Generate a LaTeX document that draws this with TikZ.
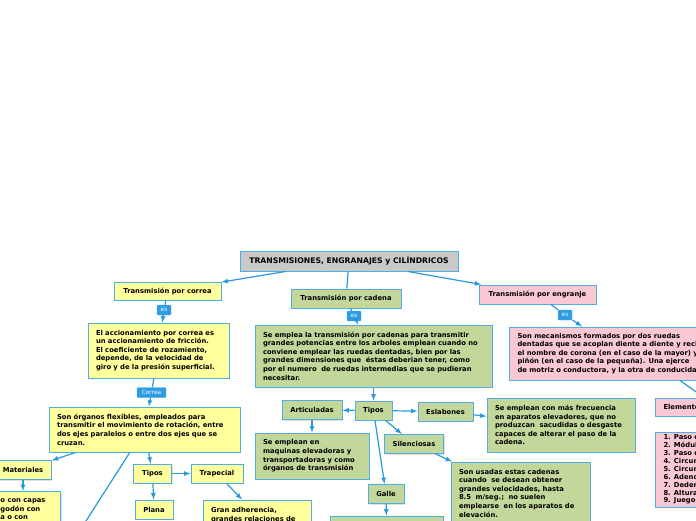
\documentclass[tikz,border=0pt]{standalone}
\usepackage{fontspec}
\setmainfont{DejaVu Sans}
\usepackage{tikz}
\usetikzlibrary{arrows, shapes, shadows}

\definecolor{mmline}{HTML}{2A98DC}
\definecolor{mmborder}{HTML}{4FAEE6}
\definecolor{mmyellow}{HTML}{FFFF9E}
\definecolor{mmgreen}{HTML}{C4D79B}
\definecolor{mmpink}{HTML}{F9C8D2}
\definecolor{mmgray}{HTML}{C9C9C9}
\definecolor{mmlabel}{HTML}{2E9CE2}

\begin{document}
\begin{tikzpicture}[
    x=1pt, y=-1pt, >=latex,
    every edge/.style={draw=mmline, line width=1.2pt},
    mmbox/.style={shape=rectangle, draw=mmborder, line width=1pt, inner xsep=8pt, inner ysep=2pt, minimum height=19pt, align=left, font=\bfseries\fontsize{6.8}{8.6}\selectfont, drop shadow={shadow xshift=1.2pt, shadow yshift=-1.2pt, opacity=0.25}},
    ybox/.style={mmbox, fill=mmyellow},
    gbox/.style={mmbox, fill=mmgreen},
    pbox/.style={mmbox, fill=mmpink},
    mmlbl/.style={shape=rectangle, fill=mmlabel, draw=mmborder, text=white, rounded corners=1pt, inner sep=1pt, minimum width=14pt, minimum height=10pt, font=\fontsize{5.8}{6}\selectfont},
]
\useasboundingbox (0, 0) rectangle (696, 520);
\clip (0, 0) rectangle (696, 520);

\node[mmbox, fill=mmgray, minimum width=218pt, minimum height=20pt, font=\bfseries\fontsize{7.7}{9}\selectfont] (root) at (349, 261) {TRANSMISIONES, ENGRANAJES y CILÍNDRICOS};

% correa
\node[ybox, minimum width=107pt, minimum height=18pt] (correa) at (167.5, 291) {Transmisión por correa};
\node[mmlbl] (esA) at (164, 310) {es};
\node[ybox, text width=125pt, minimum height=55pt] (friccion) at (158.5, 350.5) {El accionamiento por correa es\\un accionamiento de fricción.\\El coeficiente de rozamiento,\\depende, de la velocidad de\\giro y de la presión superficial.};
\node[mmlbl, minimum width=29pt] (correaLbl) at (151.5, 392.5) {Correa};
\node[ybox, text width=175pt, minimum height=45pt] (organos) at (144.5, 429.5) {Son órganos flexibles, empleados para\\transmitir el movimiento de rotación, entre\\dos ejes paralelos o entre dos ejes que se\\cruzan.};
\node[ybox, minimum width=56pt] (materiales) at (23, 470) {Materiales};
\node[ybox, minimum width=75pt, minimum height=36pt, anchor=north east] (cuero) at (61, 491) {o con capas\\godón con\\a o con};
\coordinate (organosOut) at (61, 560);
\node[ybox, minimum width=38pt] (tiposA) at (152.5, 473.5) {Tipos};
\node[ybox, minimum width=52pt] (trapecial) at (217, 473.5) {Trapecial};
\node[ybox, minimum width=38pt] (plana) at (154, 509.5) {Plana};
\node[ybox, text width=92pt, minimum height=30pt] (adherencia) at (257, 515) {Gran adherencia,\\grandes relaciones de};

% cadena
\node[gbox, minimum width=110pt] (cadena) at (346, 298.5) {Transmisión por cadena};
\node[mmlbl] (esB) at (354, 316) {es};
\node[gbox, text width=221pt, minimum height=62pt] (cadenaTxt) at (373.5, 356) {Se emplea la transmisión por cadenas para transmitir\\grandes potencias entre los arboles emplean cuando no\\conviene emplear las ruedas dentadas, bien por las\\grandes dimensiones que \ éstas deberian tener, como\\por el numero \ de ruedas intermedias que se pudieran\\necesitar.};
\node[gbox, minimum width=37pt] (tiposB) at (373.5, 410.5) {Tipos};
\node[gbox, minimum width=60pt] (articuladas) at (312, 410) {Articuladas};
\node[gbox, minimum width=55pt] (eslabones) at (445.5, 411.5) {Eslabones};
\node[gbox, text width=132pt, minimum height=54pt] (frecuencia) at (561, 425) {Se emplean con más frecuencia\\en aparatos elevadores, que no\\produzcan \ sacudidas o desgaste\\capaces de alterar el paso de la\\cadena.};
\node[gbox, text width=98pt, minimum height=46pt] (maquinas) at (312, 456) {Se emplean en\\maquinas elevadoras y\\transportadoras y como\\órganos de transmisión};
\node[gbox, minimum width=58pt] (silenciosas) at (414, 444) {Silenciosas};
\node[gbox, text width=123pt, minimum height=62pt] (usadas) at (520.5, 493) {Son usadas estas cadenas\\cuando \ se desean obtener\\grandes velocidades, hasta\\8.5 \ m/seg.; \ no suelen\\emplearse \ en los aparatos de\\elevación.};
\node[gbox, minimum width=36pt] (galle) at (386, 494) {Galle};
\node[gbox, minimum width=113pt, minimum height=20pt] (galleTxt) at (386.5, 526) {};

% engranje
\node[pbox, minimum width=117pt] (engranje) at (537.5, 294.5) {Transmisión por engranje};
\node[mmlbl] (esC) at (565, 315) {es};
\node[pbox, anchor=west, minimum height=53pt] (mecanismos) at (509, 353.5) {Son mecanismos formados por dos ruedas\\dentadas que se acoplan diente a diente y reciben\\el nombre de corona (en el caso de la mayor) y\\piñón (en el caso de la pequeña). Una ejerce\\de motriz o conductora, y la otra de conducida.};
\node[pbox, anchor=west, minimum height=18pt] (elementos) at (655, 407) {Elementos};
\node[pbox, anchor=west, minimum height=75pt, font=\bfseries\fontsize{6.8}{7.9}\selectfont] (lista) at (655, 469.5) {1. Paso circular\\2. Módulo\\3. Paso diametral\\4. Circunferencia\\5. Circunferencia\\6. Adendo\\7. Dedendo\\8. Altura\\9. Juego};

\path[->]
    (root) edge (correa)
    (root) edge[-] (cadena)
    (root) edge (engranje)
    (correa) edge[-] (esA)
    (esA) edge (friccion)
    (friccion) edge[-] (correaLbl)
    (correaLbl) edge (organos)
    (organos) edge (materiales)
    (materiales) edge (cuero)
    (organos) edge[-] (organosOut)
    (organos) edge (tiposA)
    (tiposA) edge (trapecial)
    (tiposA) edge (plana)
    (trapecial) edge (adherencia)
    (cadena) edge[-] (esB)
    (esB) edge (cadenaTxt)
    (cadenaTxt) edge (tiposB)
    (tiposB) edge (articuladas)
    (tiposB) edge (eslabones)
    (eslabones) edge (frecuencia)
    (articuladas) edge (maquinas)
    (tiposB) edge (silenciosas)
    (silenciosas) edge (usadas)
    (tiposB) edge (galle)
    (galle) edge (galleTxt)
    (engranje) edge[-] (esC)
    (esC) edge ([xshift=73pt]mecanismos.north west)
    ([xshift=171pt]mecanismos.south west) edge[-] ([xshift=49pt]elementos.north west)
;
\end{tikzpicture}
\end{document}
